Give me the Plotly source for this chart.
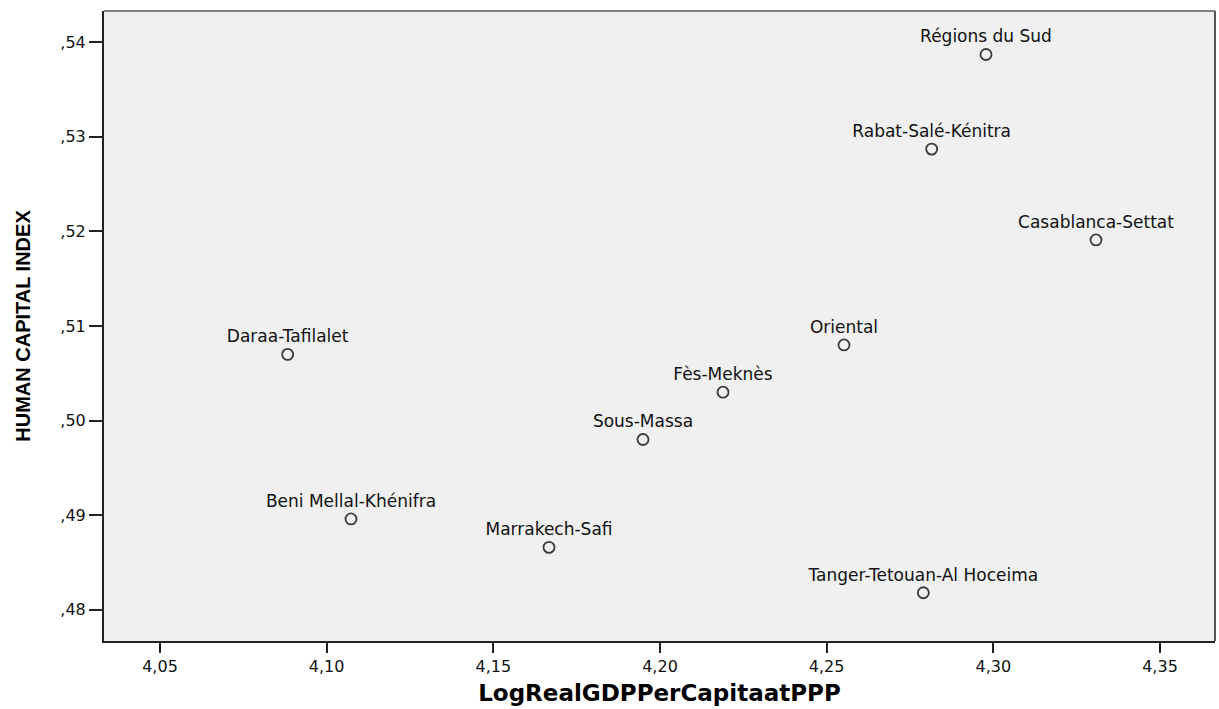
import plotly.graph_objects as go

regions = ["Régions du Sud", "Rabat-Salé-Kénitra", "Casablanca-Settat", "Oriental",
           "Fès-Meknès", "Sous-Massa", "Daraa-Tafilalet", "Beni Mellal-Khénifra",
           "Marrakech-Safi", "Tanger-Tetouan-Al Hoceima"]
log_gdp = [4.2978, 4.2815, 4.3308, 4.2552, 4.2189, 4.1949, 4.0883, 4.1073, 4.1667, 4.2790]
hci = [0.5387, 0.5287, 0.5191, 0.5080, 0.5030, 0.4980, 0.5070, 0.4896, 0.4866, 0.4818]

x_ticks = [4.05, 4.10, 4.15, 4.20, 4.25, 4.30, 4.35]
x_tick_text = ["4,05", "4,10", "4,15", "4,20", "4,25", "4,30", "4,35"]
y_ticks = [0.48, 0.49, 0.50, 0.51, 0.52, 0.53, 0.54]
y_tick_text = [",48", ",49", ",50", ",51", ",52", ",53", ",54"]

fig = go.Figure()
fig.add_trace(go.Scatter(
    x=log_gdp, y=hci, mode="markers+text", text=regions,
    textposition="top center",
    textfont=dict(family="DejaVu Sans", size=17, color="#111111"),
    marker=dict(symbol="circle", size=11, color="#f0f0f0",
                line=dict(color="#3a3a3a", width=1.8)),
    showlegend=False, cliponaxis=False,
))

fig.update_layout(
    width=1219, height=709,
    margin=dict(l=104, r=4, t=11, b=68),
    paper_bgcolor="white", plot_bgcolor="#f0f0f0",
    xaxis=dict(range=[4.0332, 4.3665], tickvals=x_ticks, ticktext=x_tick_text,
               showgrid=False, zeroline=False, showline=True, linecolor="#222222",
               linewidth=2, ticks="outside", ticklen=10, tickwidth=2, tickcolor="#222222",
               tickfont=dict(family="DejaVu Sans", size=16, color="#111111"),
               title=dict(text="<b>LogRealGDPPerCapitaatPPP</b>",
                          font=dict(family="DejaVu Sans", size=23, color="#000000"),
                          standoff=10)),
    yaxis=dict(range=[0.4767, 0.5433], tickvals=y_ticks, ticktext=y_tick_text,
               showgrid=False, zeroline=False, showline=True, linecolor="#222222",
               linewidth=2, ticks="outside", ticklen=13, tickwidth=2, tickcolor="#222222",
               tickfont=dict(family="DejaVu Sans", size=16, color="#111111"),
               title=dict(text="<b>HUMAN CAPITAL INDEX</b>",
                          font=dict(family="Liberation Sans", size=20, color="#000000"),
                          standoff=24)),
    shapes=[
        dict(type="line", xref="paper", yref="paper", x0=0, x1=1, y0=1, y1=1,
             line=dict(color="#808080", width=2)),
        dict(type="line", xref="paper", yref="paper", x0=1, x1=1, y0=0, y1=1,
             line=dict(color="#555555", width=2)),
    ],
)

fig.write_html("out.html", config={"displayModeBar": False},
               post_script="document.body.style.margin='0px';document.body.style.overflow='hidden';")
